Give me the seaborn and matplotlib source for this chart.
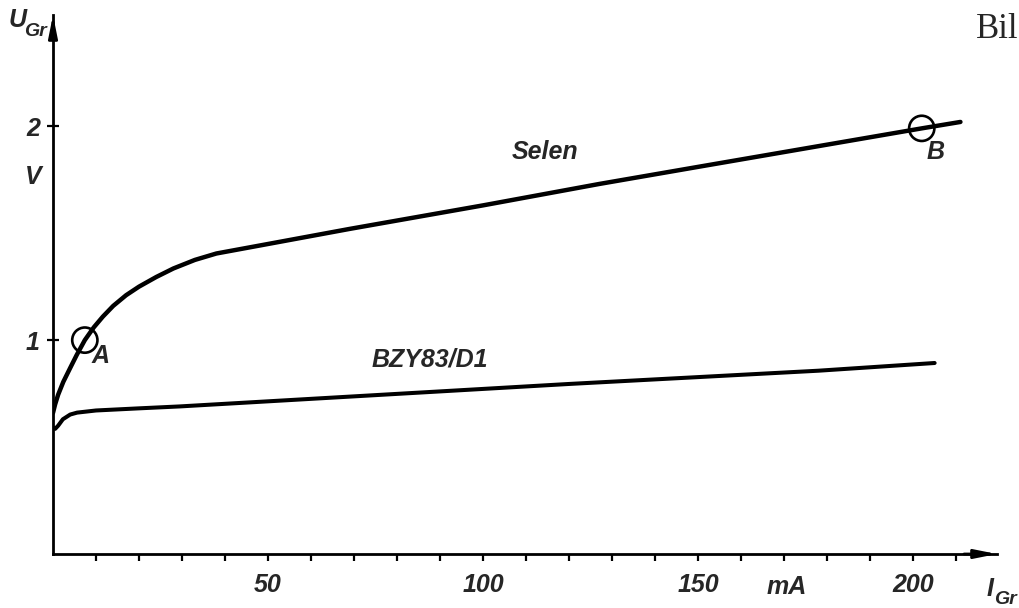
import matplotlib
matplotlib.use("Agg")
import matplotlib.pyplot as plt
import seaborn as sns
import pandas as pd

# ---- data ----
selen_I = [0, 0.5, 1.2, 2.4, 4, 5.5, 7.4, 9.5, 11.6, 14, 17, 20, 24, 28, 33, 38, 48.8, 69, 100, 127, 150, 202, 211]
selen_U = [0.66, 0.70, 0.745, 0.805, 0.87, 0.93, 1.00, 1.06, 1.11, 1.16, 1.21, 1.25, 1.295, 1.335, 1.375, 1.405, 1.445, 1.52, 1.63, 1.73, 1.81, 1.99, 2.02]

bzy_I = [0, 0.5, 1.2, 2.3, 4, 5.6, 10, 20, 29.5, 70, 120, 178, 205]
bzy_U = [0.59, 0.585, 0.60, 0.63, 0.652, 0.661, 0.671, 0.681, 0.69, 0.737, 0.795, 0.857, 0.893]

point_I = [7.4, 202]
point_U = [1.0, 1.99]
point_names = ["A", "B"]

x_major = [50, 100, 150, 200]
x_minor = list(range(10, 220, 10))
y_major = [1, 2]

curve_names = ["Selen", "BZY83/D1"]

sns.set_theme(style="white")
plt.rcParams["font.family"] = ["Liberation Sans Narrow", "Liberation Sans", "DejaVu Sans"]

df_selen = pd.DataFrame({"I": selen_I, "U": selen_U})
df_bzy = pd.DataFrame({"I": bzy_I, "U": bzy_U})

fig = plt.figure(figsize=(10.19, 6.08), dpi=100)
fig.patch.set_facecolor("white")
ax = fig.add_axes([53 / 1019, 54 / 608, 944 / 1019, 539 / 608])
ax.set_facecolor("white")

sns.lineplot(data=df_selen, x="I", y="U", ax=ax, color="black", lw=3.2,
             estimator=None, sort=False)
sns.lineplot(data=df_bzy, x="I", y="U", ax=ax, color="black", lw=2.9,
             estimator=None, sort=False)

ax.scatter(point_I, point_U, s=330, facecolors="none", edgecolors="black",
           linewidths=1.9, zorder=5)

ax.set_xlim(0, 219.5)
ax.set_ylim(0, 2.52)

for s in ["top", "right"]:
    ax.spines[s].set_visible(False)
for s in ["left", "bottom"]:
    ax.spines[s].set_color("black")
    ax.spines[s].set_linewidth(2.0)

tick_font = dict(family=["Liberation Sans Narrow", "Liberation Sans"], style="italic",
                 weight="bold", size=18)

ax.set_xticks(x_major)
ax.set_xticks(x_minor, minor=True)
ax.set_xticklabels([str(v) for v in x_major], fontdict=tick_font)
ax.set_yticks(y_major)
ax.set_yticklabels([str(v) for v in y_major], fontdict=tick_font)
ax.tick_params(axis="x", which="both", direction="out", length=5, width=1.6,
               color="black", pad=9, bottom=True)
ax.tick_params(axis="y", which="major", direction="inout", length=9, width=1.6,
               color="black", pad=5, left=True)
ax.set_xlabel("")
ax.set_ylabel("")
ax.grid(False)

# axis arrows
ax.annotate("", xy=(1.0, 0), xytext=(0.965, 0), xycoords="axes fraction",
            arrowprops=dict(arrowstyle="-|>,head_length=1.1,head_width=0.22",
                            color="black", lw=2.0, shrinkA=0, shrinkB=0),
            annotation_clip=False)
ax.annotate("", xy=(0, 1.0), xytext=(0, 0.955), xycoords="axes fraction",
            arrowprops=dict(arrowstyle="-|>,head_length=1.1,head_width=0.22",
                            color="black", lw=2.0, shrinkA=0, shrinkB=0),
            annotation_clip=False)

lab_font = dict(family=["Liberation Sans Narrow", "Liberation Sans"], style="italic",
                weight="bold")

# curve labels
ax.text(114.4, 1.88, curve_names[0], ha="center", va="center", fontsize=18, **lab_font)
ax.text(87.7, 0.91, curve_names[1], ha="center", va="center", fontsize=18, **lab_font)

# point labels
ax.text(11.0, 0.925, point_names[0], ha="center", va="center", fontsize=18, **lab_font)
ax.text(205.3, 1.88, point_names[1], ha="center", va="center", fontsize=18, **lab_font)

# axis names and units
W, H = 1019, 608
fig.text(18 / W, 1 - 20 / H, "U", ha="center", va="center", fontsize=18, **lab_font)
fig.text(35 / W, 1 - 31 / H, "Gr", ha="center", va="center", fontsize=14, **lab_font)
fig.text(33 / W, 1 - 177 / H, "V", ha="center", va="center", fontsize=18, **lab_font)
fig.text(787 / W, 1 - 587 / H, "mA", ha="center", va="center", fontsize=18, **lab_font)
fig.text(990 / W, 1 - 589 / H, "I", ha="center", va="center", fontsize=18, **lab_font)
fig.text(1005 / W, 1 - 599 / H, "Gr", ha="center", va="center", fontsize=14, **lab_font)

fig.text(976 / W, 1 - 29 / H, "Bil", ha="left", va="center", fontsize=25,
         family=["Liberation Serif", "DejaVu Serif"])

fig.savefig("out.png", dpi=100, facecolor="white")
